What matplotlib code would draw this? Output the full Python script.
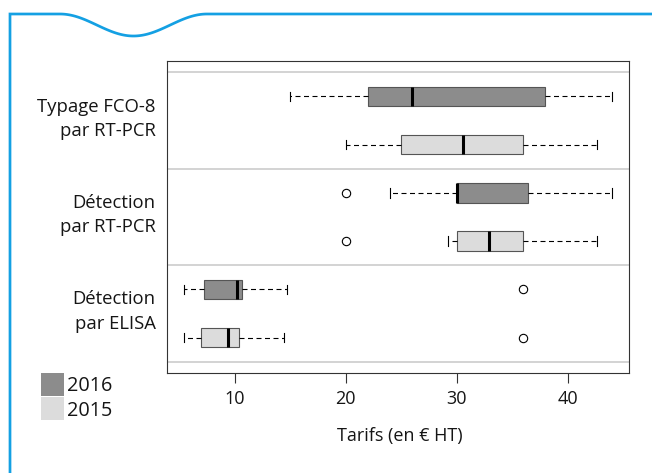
import numpy as np
import matplotlib
matplotlib.use("Agg")
import matplotlib.pyplot as plt
import matplotlib.transforms as mtransforms
from matplotlib.patches import Rectangle
from matplotlib.lines import Line2D

# ---------------- data ----------------
categories = ["Typage FCO-8\npar RT-PCR", "Détection\npar RT-PCR", "Détection\npar ELISA"]
years = ["2016", "2015"]
colors = {"2016": "#8c8c8c", "2015": "#dcdcdc"}

whislo_2016 = [15, 24, 5.4]
q1_2016 = [22, 30, 7.2]
med_2016 = [26, 30, 10.2]
q3_2016 = [38, 36.4, 10.7]
whishi_2016 = [44, 44, 14.7]
fliers_2016 = [[], [20], [36]]

whislo_2015 = [20, 29.2, 5.4]
q1_2015 = [25, 30, 7.0]
med_2015 = [30.6, 32.9, 9.4]
q3_2015 = [36, 36, 10.4]
whishi_2015 = [42.6, 42.6, 14.4]
fliers_2015 = [[], [20], [36]]

xticks = [10, 20, 30, 40]
xlabel = "Tarifs (en € HT)"

# ---------------- style ----------------
plt.rcParams['font.family'] = ['Open Sans', 'DejaVu Sans']
TXT = '#151515'

W, H = 652, 473
fig = plt.figure(figsize=(W / 100, H / 100), dpi=100)
fig.patch.set_facecolor('white')

ax_l, ax_r, ax_t, ax_b = 167.3, 628.5, 60.7, 373.3
ax = fig.add_axes([ax_l / W, 1 - ax_b / H, (ax_r - ax_l) / W, (ax_b - ax_t) / H])


def make_stats(lo, q1, med, q3, hi, fl):
    return [dict(whislo=a, q1=b, med=c, q3=d, whishi=e, fliers=f)
            for a, b, c, d, e, f in zip(lo, q1, med, q3, hi, fl)]


stats = {
    "2016": make_stats(whislo_2016, q1_2016, med_2016, q3_2016, whishi_2016, fliers_2016),
    "2015": make_stats(whislo_2015, q1_2015, med_2015, q3_2015, whishi_2015, fliers_2015),
}

centers = np.arange(len(categories)) + 0.5
offsets = {"2016": -0.25, "2015": 0.25}

# group separators
for yv in range(len(categories) + 1):
    ax.axhline(yv, color='#c8c8c8', lw=1.1, zorder=0)

for year in years:
    ax.bxp(stats[year], positions=centers + offsets[year], widths=0.2, capwidths=0.1,
           orientation='horizontal', patch_artist=True, manage_ticks=False,
           boxprops=dict(facecolor=colors[year], edgecolor='#555555', linewidth=0.8),
           medianprops=dict(color='black', linewidth=2.2, solid_capstyle='butt'),
           whiskerprops=dict(color='black', linewidth=0.8, linestyle=(0, (4.5, 3.15))),
           capprops=dict(color='black', linewidth=0.8),
           flierprops=dict(marker='o', markersize=6, markerfacecolor='none',
                           markeredgecolor='black', markeredgewidth=0.8))

ax.set_xlim(3.93, 45.48)
ax.set_ylim(3.12, -0.12)
ax.set_xticks(xticks)
ax.set_yticks(centers, categories)

for s in ax.spines.values():
    s.set_color('#333333')
    s.set_linewidth(0.8)

ax.tick_params(axis='x', length=7.2, width=0.8, color='#333333', direction='out',
               labelsize=13, pad=5, labelcolor=TXT)
ax.tick_params(axis='y', length=0, labelsize=13.3, pad=8.4, labelcolor=TXT)

shift_up = mtransforms.ScaledTranslation(0, 7 / 100, fig.dpi_scale_trans)
for lbl in ax.get_yticklabels():
    lbl.set_linespacing(1.45)
    lbl.set_transform(lbl.get_transform() + shift_up)

fig.text(400 / W, 1 - 436 / H, xlabel, ha='center', va='center', fontsize=13, color=TXT)

# legend (filled squares + labels)
leg_boxes = {"2016": (372.7, 396.0), "2015": (397.3, 420.3)}
for year in years:
    top, bot = leg_boxes[year]
    fig.add_artist(Rectangle((41 / W, 1 - bot / H), 23 / W, (bot - top) / H,
                             transform=fig.transFigure, facecolor=colors[year],
                             edgecolor='none'))
    fig.text(67.5 / W, 1 - ((top + bot) / 2 - 0.5) / H, year, ha='left', va='center_baseline',
             fontsize=14.3, color=TXT)

# decorative blue frame with wave
t = np.linspace(0, 1, 80)
wave_x = 60 + 147 * t
wave_y = 14 + 11 * (1 - np.cos(2 * np.pi * t))
xs = np.concatenate([[10, 10], wave_x, [652]])
ys = np.concatenate([[473, 14], wave_y, [14]])
fig.add_artist(Line2D(xs / W, 1 - ys / H, transform=fig.transFigure, color='#14a0e3',
                      lw=1.95, solid_joinstyle='miter', solid_capstyle='butt'))

fig.savefig('out.png', dpi=100)
